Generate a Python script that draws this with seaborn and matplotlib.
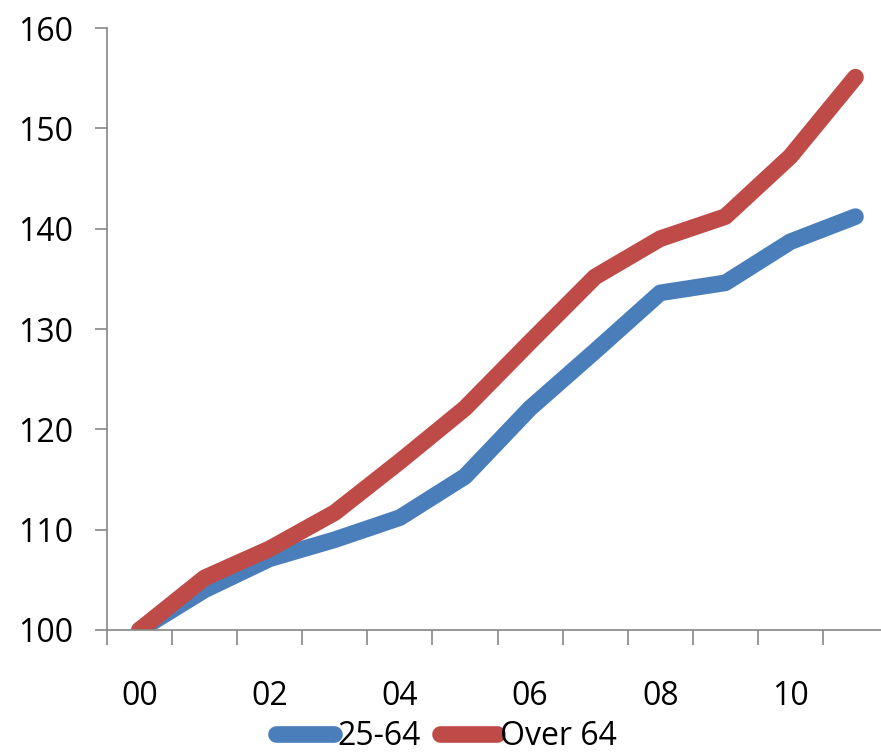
import numpy as np
import seaborn as sns
import matplotlib.pyplot as plt
import pandas as pd

# index values, 2000 = 100
years = list(range(12))
tick_labels = ['00', '02', '04', '06', '08', '10']
age_25_64 = [100, 104.0, 107.1, 109.0, 111.2, 115.3, 122.1, 127.8, 133.6, 134.6, 138.7, 141.2]
over_64 = [100, 105.2, 108.1, 111.7, 116.8, 122.1, 128.7, 135.2, 139.0, 141.2, 147.2, 155.1]

df = pd.DataFrame({
    'year': years * 2,
    'value': age_25_64 + over_64,
    'group': ['25-64'] * 12 + ['Over 64'] * 12,
})

sns.set_style('white')
plt.rcParams['font.family'] = ['Open Sans', 'DejaVu Sans']
plt.rcParams['text.color'] = 'black'
plt.rcParams['xtick.labelcolor'] = 'black'
plt.rcParams['ytick.labelcolor'] = 'black'

fig = plt.figure(figsize=(8.81, 7.53), dpi=100)
ax = fig.add_axes([107 / 881, 1 - 630 / 753, 781 / 881, 602 / 753])

sns.lineplot(data=df, x='year', y='value', hue='group',
             palette=['#4A7EBB', '#BE4B48'], linewidth=12, ax=ax,
             legend=False, solid_capstyle='round', solid_joinstyle='round')

ax.set_xlim(-0.5, 11.5)
ax.set_ylim(100, 160)
ax.set_xlabel('')
ax.set_ylabel('')

ax.set_yticks(range(100, 161, 10))
ax.tick_params(axis='y', length=8.6, width=1.2, color='#868686', pad=16,
               labelsize=23, labelcolor='black', left=True)
ax.set_xticks(np.arange(-0.5, 12, 1))
ax.set_xticklabels([])
ax.set_xticks(range(0, 12, 2), minor=True)
ax.set_xticklabels(tick_labels, minor=True)
ax.tick_params(axis='x', which='major', length=11, width=1.2, color='#868686',
               bottom=True)
ax.tick_params(axis='x', which='minor', length=0, pad=36, labelsize=23,
               labelcolor='black')

for s in ['top', 'right']:
    ax.spines[s].set_visible(False)
for s in ['left', 'bottom']:
    ax.spines[s].set_color('#868686')
    ax.spines[s].set_linewidth(1.2)

handles = [plt.Line2D([], [], color='#4A7EBB', linewidth=12, solid_capstyle='round'),
           plt.Line2D([], [], color='#BE4B48', linewidth=12, solid_capstyle='round')]
fig.legend(handles, ['25-64', 'Over 64'], loc='center', bbox_to_anchor=(0.507, 0.022),
           ncol=2, frameon=False, fontsize=23, handlelength=1.8,
           handletextpad=0.1, columnspacing=0.6, borderpad=0, labelcolor='black')

fig.savefig('out.png', dpi=100)
